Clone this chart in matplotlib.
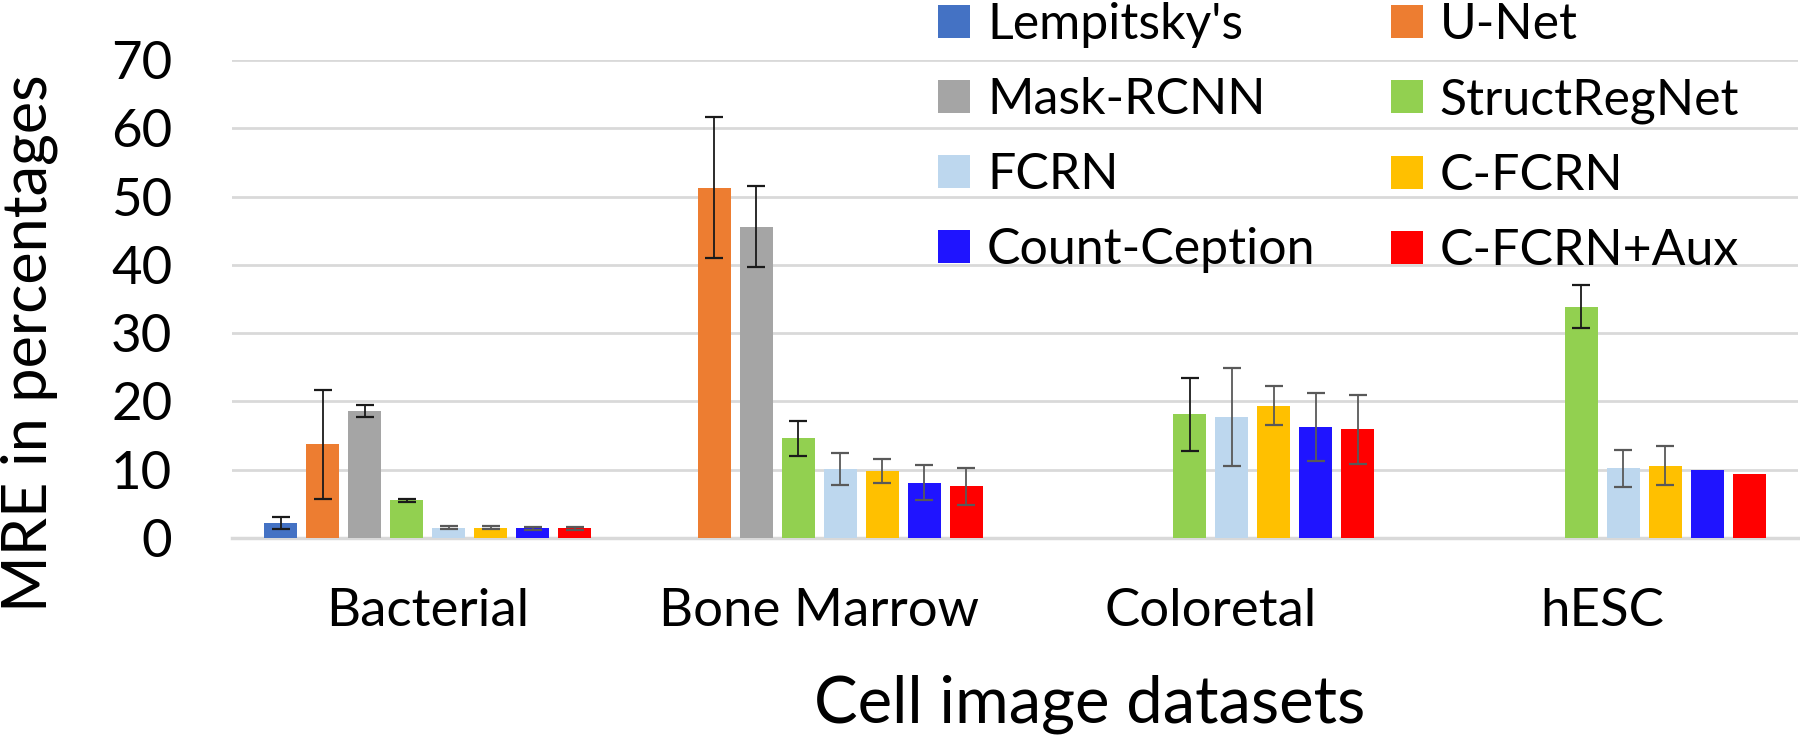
import numpy as np
import matplotlib

matplotlib.use("Agg")
import matplotlib.pyplot as plt

plt.rcParams["font.family"] = ["Lato", "DejaVu Sans"]

datasets = ["Bacterial", "Bone Marrow", "Coloretal", "hESC"]
methods = [
    "Lempitsky's", "U-Net", "Mask-RCNN", "StructRegNet",
    "FCRN", "C-FCRN", "Count-Ception", "C-FCRN+Aux",
]
colors = [
    "#4472C4", "#ED7D31", "#A5A5A5", "#92D050",
    "#BDD7EE", "#FFC000", "#1F14FF", "#FF0000",
]
err_colors = [
    "#1a1a1a", "#1a1a1a", "#1a1a1a", "#1a1a1a",
    "#595959", "#595959", "#595959", "#595959",
]

nan = np.nan
# MRE (%) per method, one value per dataset
mre = {
    "Lempitsky's":   [2.2, nan, nan, nan],
    "U-Net":         [13.7, 51.3, nan, nan],
    "Mask-RCNN":     [18.6, 45.6, nan, nan],
    "StructRegNet":  [5.5, 14.6, 18.1, 33.9],
    "FCRN":          [1.5, 10.1, 17.7, 10.2],
    "C-FCRN":        [1.5, 9.8, 19.4, 10.6],
    "Count-Ception": [1.4, 8.1, 16.3, 9.9],
    "C-FCRN+Aux":    [1.4, 7.6, 15.9, 9.4],
}
mre_std = {
    "Lempitsky's":   [0.85, nan, nan, nan],
    "U-Net":         [8.0, 10.3, nan, nan],
    "Mask-RCNN":     [0.9, 5.9, nan, nan],
    "StructRegNet":  [0.2, 2.6, 5.3, 3.1],
    "FCRN":          [0.2, 2.4, 7.2, 2.7],
    "C-FCRN":        [0.2, 1.8, 2.9, 2.9],
    "Count-Ception": [0.2, 2.6, 5.0, nan],
    "C-FCRN+Aux":    [0.2, 2.7, 5.0, nan],
}

fig = plt.figure(figsize=(18, 7.35), dpi=100)
ax = fig.add_axes([0.1289, 0.268, 0.870, 0.6504])

x = np.arange(len(datasets))
step = 0.1073
width = 0.0833
handles = []
for j, name in enumerate(methods):
    offs = x + (j - 3.5) * step
    bars = ax.bar(offs, mre[name], width=width, color=colors[j], zorder=3, label=name)
    handles.append(bars)
    ax.errorbar(
        offs, mre[name], yerr=mre_std[name], fmt="none",
        ecolor=err_colors[j], elinewidth=1.3, capsize=6.5, capthick=1.6, zorder=4,
    )

ax.set_xlim(-0.5, 3.5)
ax.set_ylim(0, 70)
ax.set_yticks(range(0, 71, 10))
ax.yaxis.grid(True, color="#d9d9d9", linewidth=2, zorder=0)
ax.set_axisbelow(True)
for side in ["top", "right", "left"]:
    ax.spines[side].set_visible(False)
ax.spines["bottom"].set_color("#d9d9d9")
ax.spines["bottom"].set_linewidth(2.5)
ax.set_xticks(x)
ax.set_xticklabels(datasets)
ax.tick_params(axis="x", length=0, pad=36, labelsize=38)
ax.tick_params(axis="y", length=0, pad=43, labelsize=38)

fig.text(1 / 1800, 1 - 612 / 735, "MRE in percentages", rotation=90,
         ha="left", va="bottom", fontsize=44)
fig.text(1090 / 1800, 1 - 722 / 735, "Cell image datasets",
         ha="center", va="baseline", fontsize=47)

order = [0, 2, 4, 6, 1, 3, 5, 7]
ax.legend(
    [handles[i] for i in order], [methods[i] for i in order],
    ncol=2, loc="upper left", bbox_to_anchor=(938 / 1800, 0.997),
    bbox_transform=fig.transFigure, frameon=False, fontsize=36,
    handlelength=0.64, handleheight=0.64, handletextpad=0.34,
    labelspacing=0.58, columnspacing=1.5, borderpad=0, borderaxespad=0,
)

fig.savefig("out.png", dpi=100)
plt.close(fig)
